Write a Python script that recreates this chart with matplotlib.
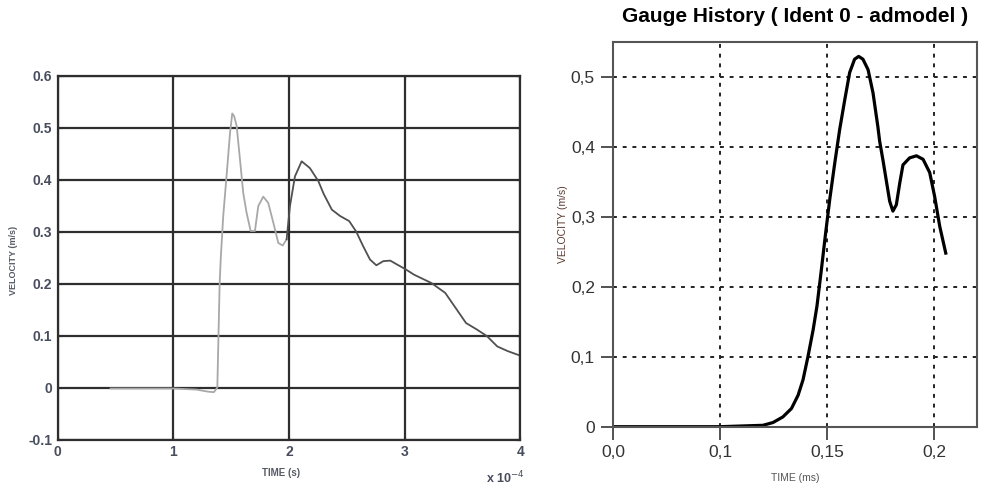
import numpy as np
import matplotlib.pyplot as plt

plt.rcParams['font.family'] = ['Liberation Sans', 'DejaVu Sans']

# left panel: measured velocity, time in units of 1e-4 s
t_meas = [0.457, 0.8, 1.0, 1.2, 1.30, 1.35, 1.38, 1.39, 1.40, 1.41, 1.431, 1.461,
          1.49, 1.509, 1.525, 1.547, 1.576, 1.604, 1.633, 1.668, 1.705, 1.734,
          1.777, 1.82, 1.864, 1.907, 1.945, 1.979]
v_meas = [-0.002, -0.002, -0.002, -0.004, -0.008, -0.009, 0.0, 0.1, 0.2, 0.25,
          0.33, 0.41, 0.49, 0.527, 0.522, 0.503, 0.438, 0.374, 0.336, 0.301,
          0.301, 0.349, 0.367, 0.355, 0.317, 0.278, 0.273, 0.285]
t_meas2 = [1.979, 2.008, 2.051, 2.109, 2.18, 2.253, 2.30, 2.37, 2.44, 2.52, 2.58,
           2.64, 2.70, 2.755, 2.815, 2.875, 2.93, 3.01, 3.08, 3.23, 3.35, 3.44,
           3.53, 3.62, 3.71, 3.80, 3.89, 3.99]
v_meas2 = [0.285, 0.349, 0.406, 0.435, 0.422, 0.397, 0.372, 0.342, 0.33, 0.32,
           0.30, 0.272, 0.246, 0.235, 0.243, 0.244, 0.237, 0.227, 0.217, 0.201,
           0.182, 0.153, 0.124, 0.112, 0.099, 0.079, 0.070, 0.062]

# right panel: simulated gauge history (axis positions as printed on the chart)
t_sim = [0.05, 0.1, 0.1201, 0.1248, 0.1294, 0.1334, 0.1365, 0.1388, 0.1411,
         0.1435, 0.1453, 0.1474, 0.1493, 0.1513, 0.1536, 0.1559, 0.1583, 0.1606,
         0.1629, 0.1648, 0.1668, 0.1692, 0.1715, 0.1738, 0.1746, 0.1762, 0.1778,
         0.1793, 0.1808, 0.1824, 0.184, 0.1855, 0.1886, 0.1918, 0.1949, 0.198,
         0.2003, 0.2027, 0.2055]
v_sim = [0.0, 0.0, 0.002, 0.006, 0.014, 0.026, 0.045, 0.067, 0.100, 0.138, 0.172,
         0.225, 0.275, 0.325, 0.376, 0.424, 0.467, 0.506, 0.525, 0.529, 0.525,
         0.510, 0.477, 0.428, 0.408, 0.380, 0.350, 0.322, 0.308, 0.317, 0.348,
         0.374, 0.384, 0.387, 0.382, 0.363, 0.329, 0.286, 0.248]

left_xticks = [0, 1, 2, 3, 4]
left_yticks = [-0.1, 0, 0.1, 0.2, 0.3, 0.4, 0.5, 0.6]
left_ylabels = ['-0.1', '0', '0.1', '0.2', '0.3', '0.4', '0.5', '0.6']
right_xticks = [0.05, 0.1, 0.15, 0.2]
right_xlabels = ['0,0', '0,1', '0,15', '0,2']
right_yticks = [0, 0.1, 0.2, 0.3, 0.4, 0.5]
right_ylabels = ['0', '0,1', '0,2', '0,3', '0,4', '0,5']

fig = plt.figure(figsize=(9.83, 4.88), dpi=100)

# ---- left chart
ax1 = fig.add_axes([57.7/983, 48.5/488, 462.7/983, 364/488])
ax1.plot(t_meas, v_meas, color='#a8a8a8', lw=1.3)
ax1.plot(t_meas2, v_meas2, color='#505050', lw=1.3)
ax1.set_xlim(0, 4)
ax1.set_ylim(-0.1, 0.6)
ax1.set_xticks(left_xticks)
ax1.set_xticklabels([str(i) for i in left_xticks])
ax1.set_yticks(left_yticks)
ax1.set_yticklabels(left_ylabels)
ax1.grid(True, color='#2e2e2e', lw=1.6)
ax1.tick_params(direction='in', length=3, labelsize=10, colors='#2e2e2e',
                labelcolor='#474d5c', top=True, right=True, pad=4)
for lab in ax1.get_xticklabels() + ax1.get_yticklabels():
    lab.set_fontweight('bold')
for s in ax1.spines.values():
    s.set_color('#2e2e2e')
    s.set_linewidth(1.6)
fig.text(281/983, 1 - 473/488, 'TIME (s)', fontsize=7, fontweight='bold',
         color='#555b66', ha='center', va='center')
fig.text(14/983, 1 - 260/488, 'VELOCITY (m/s)', fontsize=6.5, fontweight='bold',
         color='#555b66', ha='center', va='center', rotation=90)
fig.text(486/983, 1 - 478/488, r'x 10$^{-4}$', fontsize=9, fontweight='bold',
         color='#474d5c', ha='left', va='center')

# ---- right chart
ax2 = fig.add_axes([613/983, 61.3/488, 364/983, 385/488])
ax2.plot(t_sim, v_sim, color='black', lw=2.3, solid_joinstyle='round')
ax2.set_xlim(0.05, 0.2201)
ax2.set_ylim(0, 0.55)
ax2.set_xticks(right_xticks)
ax2.set_xticklabels(right_xlabels)
ax2.set_yticks(right_yticks)
ax2.set_yticklabels(right_ylabels)
ax2.grid(True, color='#222222', lw=1.4, linestyle=(0, (2, 3)))
ax2.tick_params(direction='out', length=9, width=1.3, labelsize=12.5,
                colors='#444444', labelcolor='#333333', pad=4)
for s in ax2.spines.values():
    s.set_color('#555555')
    s.set_linewidth(1.5)
ax2.set_title('Gauge History ( Ident 0 - admodel )', fontsize=15,
              fontweight='bold', pad=14)
fig.text(795/983, 1 - 478/488, 'TIME (ms)', fontsize=7.5, color='#555555',
         ha='center', va='center')
fig.text(563/983, 1 - 224/488, 'VELOCITY (m/s)', fontsize=7.5, color='#5a3a30',
         ha='center', va='center', rotation=90)

fig.savefig('out.png', dpi=100)
